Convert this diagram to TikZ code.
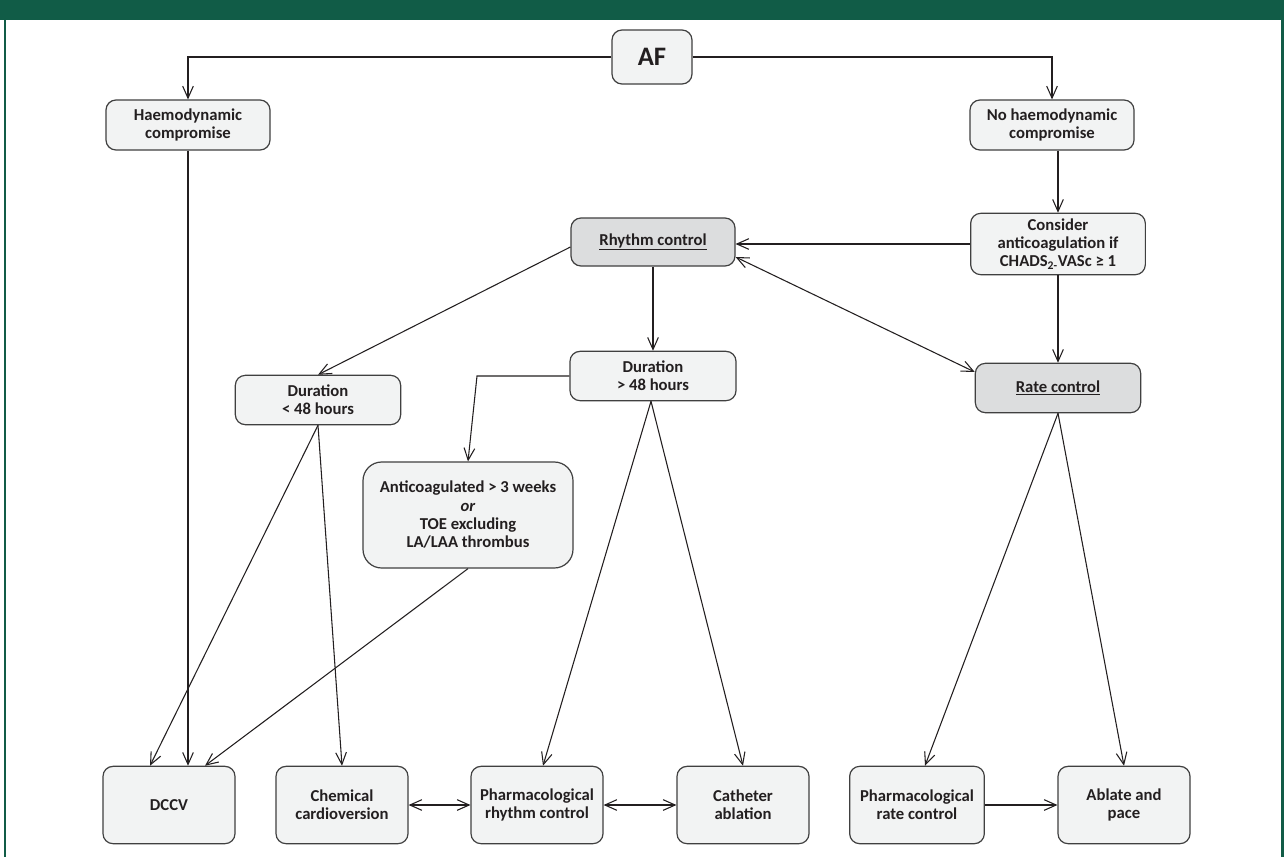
\documentclass[tikz,border=0pt]{standalone}
\usepackage{fontspec}
\setmainfont{Carlito}
\usetikzlibrary{arrows.meta}
\definecolor{framegreen}{HTML}{115C47}
\definecolor{boxfill}{HTML}{F2F3F3}
\definecolor{keyfill}{HTML}{DCDDDE}
\definecolor{inkline}{HTML}{231F20}

\begin{document}
\begin{tikzpicture}[x=0.75pt,y=-0.75pt,
  box/.style={draw=black!75,line width=0.9pt,fill=boxfill,rounded corners=7.5pt,
    align=center,font=\fontsize{12.5}{13.75}\selectfont\bfseries,text=inkline,inner sep=2pt},
  keybox/.style={box,fill=keyfill},
  endbox/.style={box,minimum width=99pt,minimum height=58pt},
  arr/.style={draw=inkline,line width=0.8pt,-{Straight Barb[length=9pt,width=8pt]}},
  dblarr/.style={arr,{Straight Barb[length=9pt,width=8pt]}-{Straight Barb[length=9pt,width=8pt]}}]
\useasboundingbox (0,0) rectangle (1284,857);
\fill[white] (0,0) rectangle (1284,857);
% Drawing frame
\fill[framegreen] (0,0) rectangle (1284,20);
\fill[framegreen] (3.5,20) rectangle (6,857);
\fill[framegreen] (1281,20) rectangle (1284,857);
% Drawing boxes
\node[box,minimum width=60pt,minimum height=40.5pt,font=\fontsize{20}{22}\selectfont\bfseries] (af) at (652,57) {AF};
\node[box,minimum width=123pt,minimum height=37.5pt] (haemo) at (188,125) {Haemodynamic\\compromise};
\node[box,minimum width=123pt,minimum height=37.5pt] (nohaemo) at (1052,125) {No haemodynamic\\compromise};
\node[box,minimum width=131pt,minimum height=46pt] (consider) at (1058,244) {Consider\\anticoagulation if\\CHADS\textsubscript{2-}VASc ≥ 1};
\node[keybox,minimum width=123pt,minimum height=36pt] (rhythm) at (653,242) {\underline{Rhythm control}};
\node[keybox,minimum width=124pt,minimum height=37pt] (rate) at (1058,388) {\underline{Rate control}};
\node[box,minimum width=124.5pt,minimum height=37pt] (dg) at (653,376) {Duration\\> 48 hours};
\node[box,minimum width=124pt,minimum height=37pt] (dl) at (318,400) {Duration\\< 48 hours};
\node[box,minimum width=157.5pt,minimum height=79.5pt,rounded corners=14pt] (ac) at (468,515) {Anticoagulated > 3 weeks\\\textit{or}\\TOE excluding\\LA/LAA thrombus};
\node[endbox] (dccv) at (169,805) {DCCV};
\node[endbox] (chem) at (342,805) {Chemical\\cardioversion};
\node[endbox] (prhythm) at (537,805) {Pharmacological\\rhythm control};
\node[endbox] (cath) at (743,805) {Catheter\\ablation};
\node[endbox,minimum width=101pt] (prate) at (917,805) {Pharmacological\\rate control};
\node[endbox] (ablate) at (1124,805) {Ablate and\\pace};
\coordinate (bend) at (477,376);
% Done with boxes; drawing connectors
\draw[arr] (af.west) -| (haemo.north);
\draw[arr] (af.east) -| (nohaemo.north);
\draw[arr] (nohaemo.south -| consider.north) -- (consider.north);
\draw[arr] (consider.west) -- (consider.west -| rhythm.east);
\draw[arr] (consider.south) -- (rate.north);
\draw[dblarr] ([yshift=-11.25pt]rhythm.east) -- ([yshift=12pt]rate.west);
\draw[arr] ([yshift=-3.75pt]rhythm.west) -- (dl.north);
\draw[arr] (rhythm.south) -- (dg.north);
\draw[arr] (dg.west) -- (bend) -- (ac.north);
\draw[arr] (haemo.south) -- (haemo.south |- dccv.north);
\draw[arr] (dl.south) -- ([xshift=-14.25pt]dccv.north);
\draw[arr] (dl.south) -- (chem.north);
\draw[arr] (ac.south) -- ([xshift=27pt]dccv.north);
\draw[arr] ([xshift=-1.5pt]dg.south) -- ([xshift=4.5pt]prhythm.north);
\draw[arr] ([xshift=-1.5pt]dg.south) -- (cath.north);
\draw[arr] (rate.south) -- ([xshift=6pt]prate.north);
\draw[arr] (rate.south) -- (ablate.north);
\draw[dblarr] (chem.east) -- (prhythm.west);
\draw[dblarr] (prhythm.east) -- (cath.west);
\draw[arr] (prate.east) -- (ablate.west);
% Done with connectors
\end{tikzpicture}
\end{document}
